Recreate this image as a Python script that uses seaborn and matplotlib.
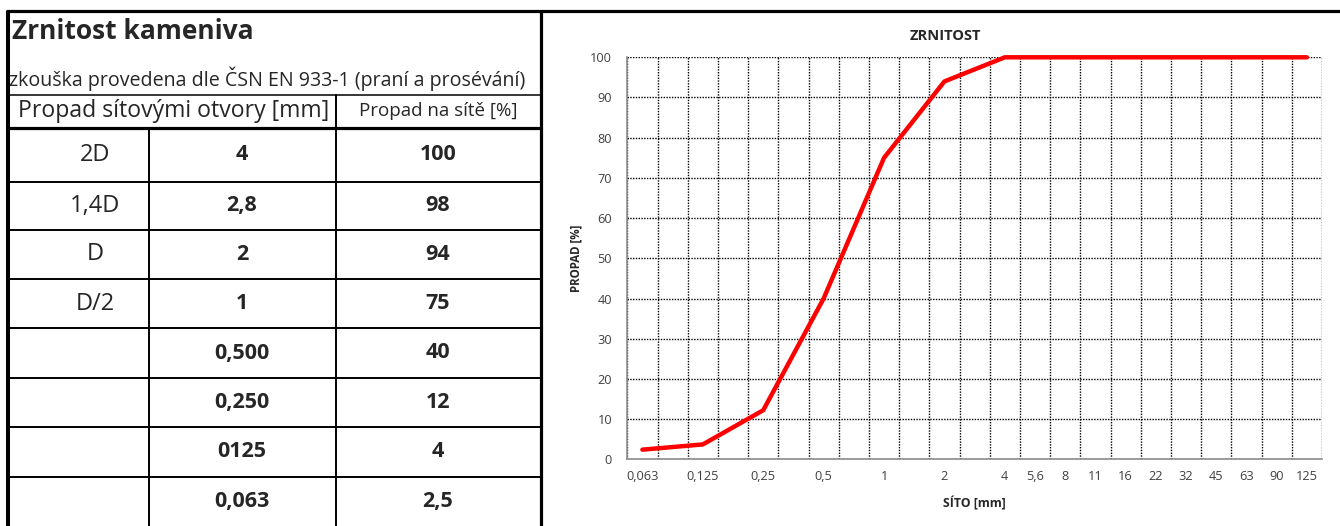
import numpy as np
import matplotlib.pyplot as plt
import seaborn as sns

# --- Data ---
sieve_slots = ['0,063', '', '0,125', '', '0,25', '', '0,5', '', '1', '', '2', '',
               '4', '5,6', '8', '11', '16', '22', '32', '45', '63', '90', '125']
sieve_labels = ['0,063', '0,125', '0,25', '0,5', '1', '2', '4', '5,6', '8', '11',
                '16', '22', '32', '45', '63', '90', '125']
passing = [2.4, 3.7, 12.2, 40, 75, 94, 100, 100, 100, 100, 100, 100, 100, 100, 100, 100, 100]

table_name = ['2D', '1,4D', 'D', 'D/2', '', '', '', '']
table_sieve = ['4', '2,8', '2', '1', '0,500', '0,250', '0125', '0,063']
table_pass = ['100', '98', '94', '75', '40', '12', '4', '2,5']

# --- Setup ---
sns.set_style("white")
plt.rcParams['font.family'] = ['Open Sans', 'DejaVu Sans']

W, H = 1340, 526
fig = plt.figure(figsize=(W / 100, H / 100), dpi=100)


def fx(px):
    return px / W


def fy(py):
    return 1 - py / H


# --- Table (drawn in pixel coordinates) ---
tab = fig.add_axes([0, 0, 1, 1])
tab.set_xlim(0, W)
tab.set_ylim(H, 0)
tab.axis('off')

thick, thin = 2.3, 1.4
tab.plot([6, W], [11, 11], color='black', lw=thick, solid_capstyle='butt')
tab.plot([8, 8], [11, H], color='black', lw=2.9, solid_capstyle='butt')
tab.plot([541, 541], [11, H], color='black', lw=thick, solid_capstyle='butt')
tab.plot([8, 541], [95, 95], color='black', lw=1.1)
tab.plot([8, 541], [128, 128], color='black', lw=thick)
tab.plot([336, 336], [95, H], color='black', lw=thin)
tab.plot([149, 149], [128, H], color='black', lw=thin)

row_edges = [128, 181.5, 230, 279, 328, 378, 427, 476.5, 526]
for y in row_edges[1:-1]:
    tab.plot([8, 541], [y, y], color='black', lw=thin)

tab.text(12, 39, 'Zrnitost kameniva', fontsize=19, fontweight='bold', va='baseline')
tab.text(9, 86, 'zkouška provedena dle ČSN EN 933-1 (praní a prosévání)',
         fontsize=14.1, va='baseline')
tab.text(174, 111, 'Propad sítovými otvory [mm]', fontsize=16.6, ha='center', va='center')
tab.text(438, 111, 'Propad na sítě [%]', fontsize=13.5, ha='center', va='center')

for i, (name, sv, ps) in enumerate(zip(table_name, table_sieve, table_pass)):
    yc = (row_edges[i] + row_edges[i + 1]) / 2
    tab.text(95, yc, name, fontsize=17, ha='center', va='center')
    tab.text(242, yc, sv, fontsize=15.5, fontweight='bold', ha='center', va='center')
    tab.text(438, yc, ps, fontsize=15.5, fontweight='bold', ha='center', va='center')

# --- Chart ---
left, right, top, bottom = 627.3, 1322, 57.3, 459.3
ax = fig.add_axes([fx(left), fy(bottom), fx(right) - fx(left), fy(top) - fy(bottom)])
ax.patch.set_visible(False)

x_pos = [sieve_slots.index(s) for s in sieve_labels]
sns.lineplot(x=x_pos, y=passing, color='#ff0000', linewidth=3.2, ax=ax,
             clip_on=False, zorder=5)

n = len(sieve_slots)
ax.set_xlim(-0.5, n - 0.5)
ax.set_ylim(0, 100)
ax.set_xticks(range(n))
ax.set_xticklabels(sieve_slots)
ax.set_xticks(np.arange(-0.5, n, 1), minor=True)
ax.set_yticks(range(0, 101, 10))

grid_kw = dict(color='black', linestyle=(0, (1, 1)), linewidth=1.0)
ax.grid(True, which='minor', axis='x', **grid_kw)
ax.grid(True, which='major', axis='y', **grid_kw)
ax.grid(False, which='major', axis='x')

ax.tick_params(axis='x', which='major', length=0, pad=8, labelsize=9.2, labelcolor='#404040')
ax.tick_params(axis='x', which='minor', length=4, width=1, color='#8c8c8c', direction='out')
ax.tick_params(axis='y', length=4, width=1, color='#8c8c8c', direction='out',
               pad=7, labelsize=9.2, labelcolor='#404040')

for side in ['top', 'right']:
    ax.spines[side].set_visible(False)
for side in ['left', 'bottom']:
    ax.spines[side].set_color('#8c8c8c')
    ax.spines[side].set_linewidth(1.2)

ax.set_xlabel('SÍTO [mm]', fontsize=8.8, fontweight='bold', color='#262626')
ax.xaxis.set_label_coords(0.5, -(496 - bottom) / (bottom - top))
ax.set_ylabel('PROPAD [%]', fontsize=8.3, fontweight='bold', color='#262626')
ax.yaxis.set_label_coords(-(left - 582) / (right - left), 0.5)

fig.text(fx(945), fy(36), 'ZRNITOST', fontsize=10.5, fontweight='bold',
         ha='center', va='center', color='#262626')

fig.savefig('out.png', dpi=100)
